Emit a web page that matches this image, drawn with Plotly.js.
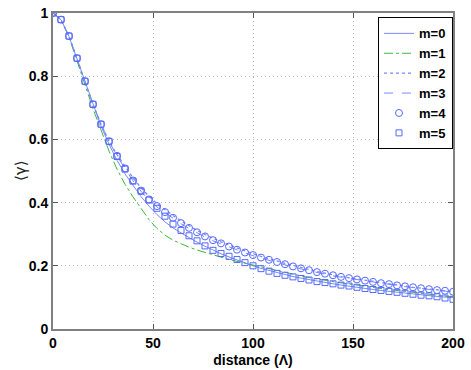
<!DOCTYPE html>
<html>
<head>
<meta charset="utf-8">
<script src="https://cdn.plot.ly/plotly-3.0.1.min.js"></script>
<style>
  html, body { margin: 0; padding: 0; background: #fff; }
  #plot { width: 471px; height: 370px; }
</style>
</head>
<body>
<div id="plot"></div>
<script>
// distance in units of Lambda, sampled every 4
var dist = [];
for (var d = 0; d <= 200; d += 4) dist.push(d);

var m0 = [1.000, 0.979, 0.926, 0.855, 0.781, 0.707, 0.642, 0.585, 0.534, 0.491,
          0.453, 0.419, 0.389, 0.362, 0.339, 0.320, 0.304, 0.289, 0.275, 0.262,
          0.249, 0.238, 0.228, 0.218, 0.209, 0.200, 0.192, 0.185, 0.178, 0.172,
          0.166, 0.161, 0.156, 0.151, 0.147, 0.143, 0.139, 0.135, 0.131, 0.128,
          0.125, 0.122, 0.119, 0.116, 0.113, 0.110, 0.108, 0.105, 0.103, 0.101, 0.099];

var m1 = [1.000, 0.978, 0.924, 0.851, 0.773, 0.697, 0.627, 0.563, 0.506, 0.458,
          0.418, 0.380, 0.346, 0.318, 0.297, 0.281, 0.269, 0.259, 0.250, 0.242,
          0.234, 0.227, 0.220, 0.214, 0.208, 0.202, 0.196, 0.190, 0.184, 0.178,
          0.173, 0.168, 0.163, 0.158, 0.154, 0.150, 0.146, 0.142, 0.138, 0.135,
          0.131, 0.128, 0.125, 0.122, 0.119, 0.116, 0.113, 0.110, 0.107, 0.104, 0.101];

var m2 = [1.000, 0.979, 0.927, 0.857, 0.784, 0.711, 0.648, 0.594, 0.552, 0.514,
          0.478, 0.447, 0.420, 0.397, 0.377, 0.359, 0.342, 0.326, 0.312, 0.299,
          0.287, 0.276, 0.266, 0.256, 0.247, 0.238, 0.230, 0.222, 0.215, 0.208,
          0.201, 0.194, 0.188, 0.182, 0.177, 0.171, 0.166, 0.162, 0.158, 0.154,
          0.150, 0.146, 0.142, 0.139, 0.135, 0.132, 0.129, 0.126, 0.124, 0.121, 0.119];

var m3 = [1.000, 0.979, 0.927, 0.857, 0.784, 0.711, 0.648, 0.594, 0.547, 0.507,
          0.469, 0.436, 0.408, 0.386, 0.368, 0.350, 0.333, 0.318, 0.304, 0.291,
          0.279, 0.269, 0.259, 0.250, 0.241, 0.232, 0.224, 0.217, 0.210, 0.203,
          0.196, 0.190, 0.184, 0.179, 0.173, 0.168, 0.164, 0.160, 0.156, 0.152,
          0.148, 0.144, 0.141, 0.137, 0.134, 0.131, 0.128, 0.125, 0.122, 0.120, 0.117];

var m4 = [1.000, 0.979, 0.927, 0.857, 0.784, 0.711, 0.648, 0.594, 0.548, 0.508,
          0.470, 0.438, 0.410, 0.389, 0.370, 0.352, 0.335, 0.320, 0.306, 0.293,
          0.281, 0.271, 0.261, 0.251, 0.242, 0.234, 0.226, 0.219, 0.212, 0.205,
          0.198, 0.192, 0.186, 0.180, 0.175, 0.170, 0.165, 0.161, 0.157, 0.153,
          0.149, 0.145, 0.142, 0.138, 0.135, 0.132, 0.129, 0.126, 0.123, 0.121, 0.118];

var m5 = [1.000, 0.979, 0.927, 0.857, 0.784, 0.711, 0.648, 0.594, 0.546, 0.506,
          0.468, 0.436, 0.408, 0.382, 0.357, 0.332, 0.312, 0.295, 0.279, 0.263,
          0.249, 0.239, 0.230, 0.220, 0.210, 0.200, 0.191, 0.183, 0.176, 0.170,
          0.165, 0.160, 0.155, 0.150, 0.147, 0.143, 0.139, 0.136, 0.132, 0.128,
          0.125, 0.122, 0.119, 0.116, 0.113, 0.110, 0.107, 0.105, 0.102, 0.098, 0.094];

var lineBlue = '#7a88ff';
var markBlue = '#5468ff';
var green = '#3cb83c';

var traces = [
  { x: dist, y: m0, name: 'm=0', mode: 'lines', line: { color: lineBlue, width: 1 } },
  { x: dist, y: m1, name: 'm=1', mode: 'lines', line: { color: green, width: 1, dash: 'dashdot' } },
  { x: dist, y: m2, name: 'm=2', mode: 'lines', line: { color: lineBlue, width: 1.3, dash: 'dot' } },
  { x: dist, y: m3, name: 'm=3', mode: 'lines', line: { color: lineBlue, width: 1, dash: 'dash' } },
  { x: dist, y: m4, name: 'm=4', mode: 'markers',
    marker: { symbol: 'circle-open', size: 7, color: markBlue, line: { width: 1 } } },
  { x: dist, y: m5, name: 'm=5', mode: 'markers',
    marker: { symbol: 'square-open', size: 6, color: markBlue, line: { width: 1 } } }
];

var tickFont = { family: 'Liberation Sans, Arial, sans-serif', size: 14, weight: 'bold', color: '#000' };

var layout = {
  width: 471,
  height: 370,
  margin: { l: 53, r: 18, t: 13, b: 41 },
  paper_bgcolor: '#fff',
  plot_bgcolor: '#fff',
  showlegend: true,
  xaxis: {
    range: [0, 200],
    tickvals: [0, 50, 100, 150, 200],
    ticks: 'inside', ticklen: 5, tickcolor: '#555',
    showline: true, linecolor: '#808080', linewidth: 2, mirror: 'ticks',
    showgrid: true, gridcolor: '#b8b8b8', griddash: '1px,3px', gridwidth: 1,
    zeroline: false,
    tickfont: tickFont,
    title: { text: 'distance (Λ)', font: tickFont, standoff: 5 }
  },
  yaxis: {
    range: [0, 1],
    tickvals: [0, 0.2, 0.4, 0.6, 0.8, 1],
    ticks: 'inside', ticklen: 5, tickcolor: '#555',
    showline: true, linecolor: '#808080', linewidth: 2, mirror: 'ticks',
    showgrid: true, gridcolor: '#b8b8b8', griddash: '1px,3px', gridwidth: 1,
    zeroline: false,
    tickfont: tickFont
  },
  annotations: [{
    text: '⟨γ⟩', xref: 'paper', yref: 'paper', x: -0.08, y: 0.5,
    xanchor: 'center', yanchor: 'middle', textangle: -90, showarrow: false,
    font: { family: 'DejaVu Sans, sans-serif', size: 15, color: '#222' }
  }],
  legend: {
    x: 1.0, xanchor: 'right',
    y: 0.986, yanchor: 'top',
    bgcolor: '#fff', bordercolor: '#000', borderwidth: 1,
    font: { family: 'Liberation Sans, Arial, sans-serif', size: 13, weight: 'bold', color: '#000' },
    tracegroupgap: 0,
    itemwidth: 30
  }
};

Plotly.newPlot('plot', traces, layout, { displayModeBar: false, staticPlot: true });
</script>
</body>
</html>
